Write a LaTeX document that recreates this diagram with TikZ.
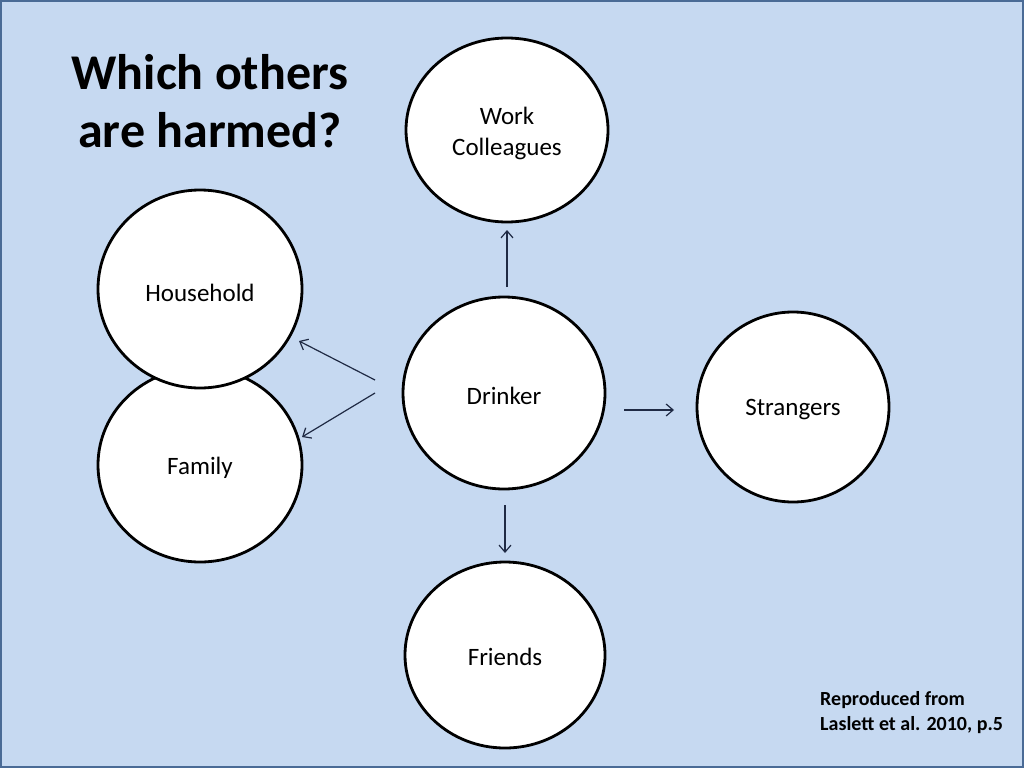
\documentclass[tikz,border=0pt]{standalone}
\usepackage{fontspec}
\setmainfont{Carlito}
\usetikzlibrary{arrows.meta}
\definecolor{bgblue}{HTML}{C6D9F1}
\definecolor{frameblue}{HTML}{4A6B96}
\definecolor{arrowcol}{HTML}{1F2A44}
\begin{document}
\begin{tikzpicture}[x=1pt,y=-1pt,
  bubble/.style={draw=black,line width=2.8pt,fill=white},
  lbl/.style={font=\fontsize{25}{31}\selectfont,align=center,text=black},
  conn/.style={draw=arrowcol,line width=1.2pt,-{Straight Barb[length=7pt,width=12pt,line width=1.2pt]}}
]
\useasboundingbox (0,0) rectangle (1024,768);
\fill[bgblue] (0,0) rectangle (1024,768);
\draw[frameblue,line width=2pt] (1,1) rectangle (1023,767);
% circles
\draw[bubble] (200,465) ellipse [x radius=102,y radius=97];
\node[lbl] (family) at (200,468) {Family};
\draw[bubble] (200,289) ellipse [x radius=102,y radius=99];
\node[lbl] (household) at (200,293) {Household};
\draw[bubble] (507,130) ellipse [x radius=101,y radius=92];
\node[lbl] (work) at (507,133) {Work\\Colleagues};
\draw[bubble] (504,393) ellipse [x radius=101,y radius=96];
\node[lbl] (drinker) at (504,396) {Drinker};
\draw[bubble] (793,407) ellipse [x radius=96,y radius=95];
\node[lbl] (strangers) at (793,410) {Strangers};
\draw[bubble] (505,655) ellipse [x radius=100,y radius=93];
\node[lbl] (friends) at (505,657) {Friends};
% connector endpoints
\coordinate (tS) at (507,287); \coordinate (tE) at (507,230);
\coordinate (bS) at (505,505); \coordinate (bE) at (505,553);
\coordinate (rS) at (624,410); \coordinate (rE) at (674,410);
\coordinate (l1S) at (375,380); \coordinate (l1E) at (299,341);
\coordinate (l2S) at (375,393); \coordinate (l2E) at (302,437);
\draw[conn] (tS) -- (tE);
\draw[conn] (bS) -- (bE);
\draw[conn] (rS) -- (rE);
\draw[conn] (l1S) -- (l1E);
\draw[conn] (l2S) -- (l2E);
% title
\node[font=\fontsize{50}{58}\selectfont\bfseries,align=center,text=black] (title) at (210,101) {Which others\\are harmed?};
% credit
\node[font=\fontsize{20}{25}\selectfont\bfseries,align=left,anchor=west,text=black,inner sep=0pt] (credit) at (820,713) {Reproduced from\\Laslett et al. 2010, p.5};
\end{tikzpicture}
\end{document}
